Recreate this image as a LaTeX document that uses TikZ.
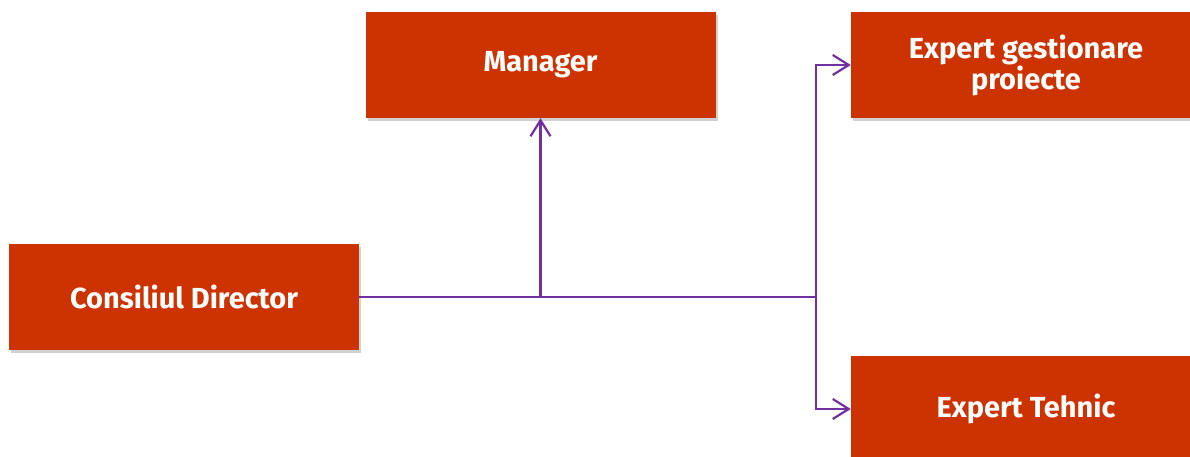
\documentclass[tikz,border=0pt]{standalone}
\usepackage{fontspec}
\setmainfont{Fira Sans}
\usepackage{tikz}
\usetikzlibrary{arrows.meta}
\usetikzlibrary{shadows}
\tikzset{>={Straight Barb[length=16pt,width=20pt,line width=2.2pt]}}
\usepackage{xcolor}
\definecolor{boxcol}{RGB}{204,51,0}
\definecolor{linkcol}{RGB}{112,48,160}
\tikzstyle{orgbox}=[fill=boxcol,text=white,minimum width=350pt,minimum height=106pt,
  inner sep=0pt,align=center,font=\fontsize{29}{29}\selectfont\bfseries,
  drop shadow={shadow xshift=2pt,shadow yshift=-3pt,opacity=0.3,fill=black!60}]
\tikzstyle{link}=[linkcol,line width=2.2pt]

\begin{document}
\begin{tikzpicture}[x=1pt,y=-1pt]
  \useasboundingbox (0,0) rectangle (1190,457);
  \def\hubx{816}
  \def\midy{297}
  % boxes
  \node[orgbox] (cons) at (184,\midy) {Consiliul Director};
  \node[orgbox] (man) at (540.5,65) {Manager};
  \node[orgbox] (egp) at (1026,65) {Expert gestionare\\proiecte};
  \node[orgbox] (tech) at (1026,409) {Expert Tehnic};
  \coordinate (hub) at (\hubx,\midy);

  % links
  \draw[link] (cons.east) -- (hub);
  \draw[link,->] (man.south |- cons.east) -- (man.south);
  \draw[link,->] (hub) |- (egp.west);
  \draw[link,->] (hub) |- (tech.west);
\end{tikzpicture}
\end{document}
